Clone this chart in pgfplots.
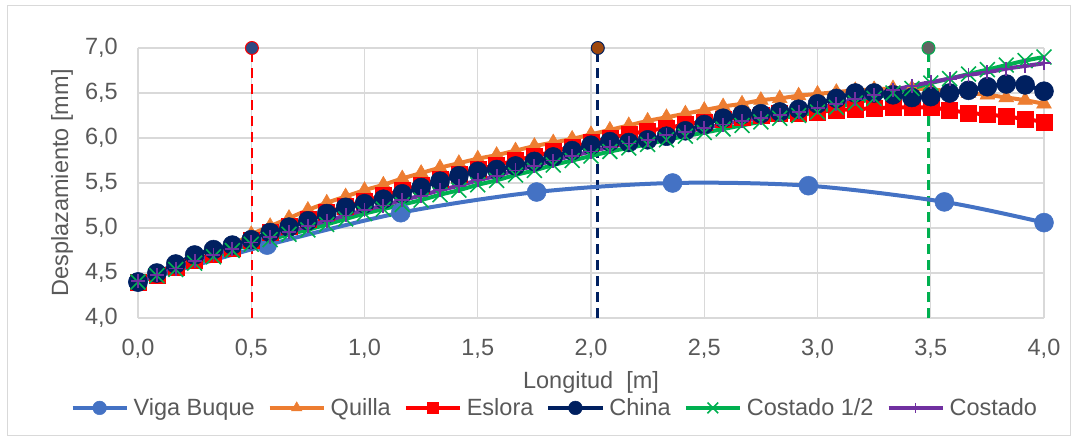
\documentclass[border=0pt]{standalone}
\usepackage{pgfplots}
\usepackage{pgfplotstable}
\pgfplotsset{compat=1.18}
\usepackage{fontspec}
\setmainfont{Liberation Sans}
\definecolor{viga}{HTML}{4472C4}
\definecolor{quilla}{HTML}{ED7D31}
\definecolor{eslora}{HTML}{FF0000}
\definecolor{china}{HTML}{002060}
\definecolor{costA}{HTML}{00B050}
\definecolor{costB}{HTML}{7030A0}
\definecolor{gridc}{HTML}{D9D9D9}
\definecolor{txt}{HTML}{595959}
\definecolor{topA}{HTML}{2E4A82}
\definecolor{topB}{HTML}{9E480E}
\definecolor{topC}{HTML}{636363}

\pgfplotstableread{
x      Q     E     C     CA    CB
0      4.40  4.40  4.40  4.40  4.41
0.0833 4.48  4.48  4.50  4.47  4.48
0.1667 4.56  4.56  4.60  4.54  4.55
0.25   4.64  4.64  4.70  4.61  4.63
0.3333 4.72  4.71  4.76  4.68  4.70
0.4167 4.81  4.78  4.81  4.75  4.77
0.5    4.93  4.86  4.87  4.82  4.84
0.5833 5.02  4.95  4.95  4.87  4.90
0.6667 5.11  5.02  5.01  4.93  4.96
0.75   5.20  5.10  5.08  4.98  5.02
0.8333 5.28  5.17  5.16  5.04  5.08
0.9167 5.35  5.24  5.23  5.10  5.14
1      5.42  5.30  5.27  5.16  5.20
1.0833 5.48  5.36  5.32  5.21  5.25
1.1667 5.55  5.42  5.38  5.26  5.31
1.25   5.61  5.48  5.45  5.31  5.36
1.3333 5.67  5.54  5.52  5.37  5.42
1.4167 5.72  5.60  5.58  5.42  5.47
1.5    5.77  5.65  5.63  5.48  5.53
1.5833 5.81  5.70  5.65  5.53  5.58
1.6667 5.86  5.75  5.69  5.59  5.64
1.75   5.91  5.80  5.74  5.64  5.69
1.8333 5.95  5.85  5.79  5.70  5.75
1.9167 5.99  5.90  5.86  5.75  5.80
2      6.04  5.95  5.92  5.80  5.85
2.0833 6.09  6.00  5.96  5.85  5.90
2.1667 6.14  6.04  5.95  5.89  5.94
2.25   6.19  6.08  5.98  5.93  5.98
2.3333 6.23  6.11  6.02  5.98  6.03
2.4167 6.27  6.15  6.08  6.02  6.07
2.5    6.31  6.18  6.15  6.06  6.11
2.5833 6.35  6.21  6.22  6.10  6.15
2.6667 6.38  6.23  6.26  6.14  6.19
2.75   6.42  6.25  6.27  6.18  6.22
2.8333 6.44  6.27  6.29  6.22  6.26
2.9167 6.47  6.28  6.32  6.25  6.29
3      6.49  6.29  6.38  6.29  6.33
3.0833 6.51  6.31  6.44  6.34  6.38
3.1667 6.53  6.32  6.50  6.39  6.43
3.25   6.54  6.33  6.50  6.44  6.48
3.3333 6.55  6.34  6.48  6.50  6.53
3.4167 6.55  6.34  6.45  6.55  6.58
3.5    6.54  6.34  6.46  6.61  6.62
3.5833 6.52  6.31  6.50  6.66  6.66
3.6667 6.50  6.28  6.53  6.71  6.70
3.75   6.48  6.26  6.57  6.76  6.73
3.8333 6.45  6.24  6.60  6.81  6.77
3.9167 6.42  6.21  6.59  6.86  6.80
4      6.38  6.18  6.52  6.90  6.83
}\series

\pgfplotstableread{
x    y
0    4.40
0.57 4.81
1.16 5.17
1.76 5.40
2.36 5.50
2.96 5.47
3.56 5.29
4.0  5.06
}\viga

\begin{document}
\begin{tikzpicture}
\path[use as bounding box] (-138bp,-123bp) rectangle (940bp,318bp);
\draw[gridc, line width=1bp] (-130bp,-117bp) rectangle (932bp,312bp);
\begin{axis}[
  width=906bp, height=270bp, scale only axis,
  xmin=0, xmax=4, ymin=4, ymax=7,
  xtick={0,0.5,...,4}, ytick={4,4.5,...,7},
  grid=major, major grid style={draw=gridc, line width=1.3bp},
  axis line style={draw=none}, tick style={draw=none},
  clip=false,
  font=\fontsize{23.5bp}{28bp}\selectfont,
  /pgf/number format/assume math mode=true,
  ticklabel style={font=\fontsize{23.5bp}{28bp}\selectfont, text=txt,
     /pgf/number format/fixed, /pgf/number format/fixed zerofill,
     /pgf/number format/precision=1, /pgf/number format/use comma},
  xticklabel style={anchor=base, inner sep=0pt, yshift=-37bp},
  yticklabel style={anchor=east, inner sep=0pt, xshift=-20bp},
  xlabel={Longitud~~[m]},
  ylabel={Desplazamiento [mm]},
  label style={text=txt, font=\fontsize{23.5bp}{28bp}\selectfont},
  xlabel style={at={(axis description cs:0.5,-0.237)}, anchor=center},
  ylabel style={at={(axis description cs:-0.0839,0.5)}, anchor=center},
  legend columns=6,
  legend style={draw=none, fill=none, text=txt, inner sep=0pt,
     font=\fontsize{23.5bp}{28bp}\selectfont,
     at={(axis description cs:0.459,-0.333)}, anchor=center,
     nodes={inner sep=0pt},
     /tikz/every odd column/.append style={column sep=5bp},
     /tikz/every even column/.append style={column sep=13bp}},
  legend image code/.code={\draw[mark repeat=2,mark phase=2, every mark/.append style={scale=0.72}] plot coordinates {(0bp,0bp) (27bp,0bp) (54bp,0bp)};},
]
% vertical dashed reference lines
\addplot[forget plot, eslora, line width=2.8bp, dash pattern=on 10bp off 6bp] coordinates {(0.503,4) (0.503,7)};
\addplot[forget plot, china, line width=2.8bp, dash pattern=on 10bp off 6bp] coordinates {(2.03,4) (2.03,7)};
\addplot[forget plot, costA, line width=2.8bp, dash pattern=on 10bp off 6bp] coordinates {(3.49,4) (3.49,7)};

\addplot[viga, line width=4bp, smooth, mark=*, mark size=9.5bp, mark options={fill=viga, draw=viga, line width=0.5bp}] table[x=x,y=y] {\viga};
\addlegendentry{Viga Buque}
\addplot[quilla, line width=4bp, smooth, mark=triangle*, mark size=8.5bp, mark options={fill=quilla, draw=quilla, line width=0.5bp}] table[x=x,y=Q] {\series};
\addlegendentry{Quilla}
\addplot[eslora, line width=4bp, smooth, mark=square*, mark size=8bp, mark options={fill=eslora, draw=eslora, line width=0.5bp}] table[x=x,y=E] {\series};
\addlegendentry{Eslora}
\addplot[china, line width=4bp, smooth, mark=*, mark size=9.5bp, mark options={fill=china, draw=china, line width=0.5bp}] table[x=x,y=C] {\series};
\addlegendentry{China}
\addplot[costA, line width=4bp, smooth, mark=x, mark size=10.5bp, mark options={line width=1.6bp}] table[x=x,y=CA] {\series};
\addlegendentry{Costado 1/2}
\addplot[costB, line width=4bp, smooth, mark=+, mark size=7bp, mark options={line width=1.8bp}] table[x=x,y=CB] {\series};
\addlegendentry{Costado}

% markers at the top of the dashed lines
\addplot[forget plot, only marks, mark=*, mark size=6.5bp, mark options={fill=topA, draw=eslora, line width=1bp}] coordinates {(0.503,7)};
\addplot[forget plot, only marks, mark=*, mark size=6.5bp, mark options={fill=topB, draw=china, line width=1bp}] coordinates {(2.03,7)};
\addplot[forget plot, only marks, mark=*, mark size=6.5bp, mark options={fill=topC, draw=costA, line width=1bp}] coordinates {(3.49,7)};
\end{axis}
\end{tikzpicture}
\end{document}
